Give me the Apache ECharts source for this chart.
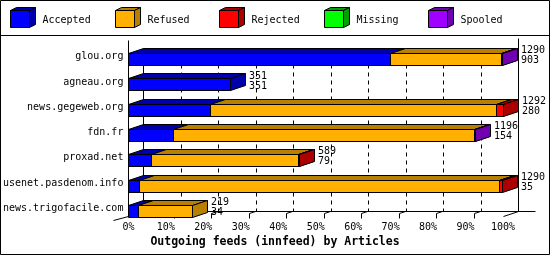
<!DOCTYPE html>
<html>
<head>
<meta charset="utf-8">
<script src="https://cdn.jsdelivr.net/npm/echarts@6/dist/echarts.min.js"></script>
<style>
html,body{margin:0;padding:0;background:#fff;}
#c{width:550px;height:255px;}
</style>
</head>
<body>
<div id="c"></div>
<script>
// ---- data ----
var categories = ["glou.org","agneau.org","news.gegeweb.org","fdn.fr","proxad.net","usenet.pasdenom.info","news.trigofacile.com"];
var seriesNames = ["Accepted","Refused","Rejected","Missing","Spooled"];
var accepted = [903, 351, 280, 154, 79, 35, 34];
var refused  = [382, 0, 988, 1039, 507, 1242, 185];
var rejected = [0, 0, 24, 0, 3, 13, 0];
var missing  = [0, 0, 0, 0, 0, 0, 0];
var spooled  = [5, 0, 0, 3, 0, 0, 0];
var tickValues = [0,10,20,30,40,50,60,70,80,90,100];
var titleText = "Outgoing feeds (innfeed) by Articles";

// ---- styles ----
var frontColors = ["#0000ff","#ffb000","#ff0000","#00ff00","#a000ff"];
var darkColors  = ["#0000aa","#b88000","#aa0000","#00a000","#7000b0"];
var FONT = "'DejaVu Sans Mono', monospace";
var DX = 15, DY = 5, FH = 12, FOFF = 3.5;

var allSeries = [accepted, refused, rejected, missing, spooled];
var totals = categories.map(function(_, i){
  return allSeries.reduce(function(s, arr){ return s + arr[i]; }, 0);
});
var maxTotal = Math.max.apply(null, totals);
function pct(v){ return v / maxTotal * 100; }
function r(v){ return Math.round(v) + 0.5; }

var chart = echarts.init(document.getElementById('c'), null, {renderer:'canvas'});

function barRender(si){
  return function(params, api){
    var start = api.value(0), cat = api.value(1), val = api.value(2);
    if (!(val > 0)) return {type:'group', children:[]};
    var p0 = api.coord([start, cat]);
    var p1 = api.coord([start + val, cat]);
    var x0 = r(p0[0]), x1 = r(p1[0]);
    var top = r(p0[1] - FOFF), bot = top + FH;
    var st = {stroke:'#000', lineWidth:1};
    return {type:'group', children:[
      {type:'polygon', shape:{points:[[x0,top],[x0+DX,top-DY],[x1+DX,top-DY],[x1,top]]},
        style:{fill:darkColors[si], stroke:'#000', lineWidth:1}},
      {type:'rect', shape:{x:x0, y:top, width:x1-x0, height:FH},
        style:{fill:frontColors[si], stroke:'#000', lineWidth:1}},
      {type:'polygon', shape:{points:[[x1,top],[x1+DX,top-DY],[x1+DX,bot-DY],[x1,bot]]},
        style:{fill:darkColors[si], stroke:'#000', lineWidth:1}}
    ]};
  };
}

var series = [];
// grid / frame series
series.push({
  type:'custom', name:'frame', z:1, silent:true,
  encode:{x:0, y:1},
  data: tickValues.map(function(v){ return [v, 0]; }),
  renderItem: function(params, api){
    var v = api.value(0);
    var pTop = api.coord([v, 0]);
    var pBot = api.coord([v, categories.length - 1]);
    var xf = r(pTop[0]);
    var xb = xf + DX;
    var yTop = Math.round(pTop[1] - 17) + 0.5;
    var frontFloor = Math.round(pBot[1] - FOFF + FH - 1) + 0.5;
    var backFloor = frontFloor - DY;
    var ch = [];
    var line = function(pts, dash){
      return {type:'polyline', shape:{points:pts},
        style:{stroke:'#000', lineWidth:1, fill:null, lineDash: dash || null}};
    };
    if (v === 0) {
      ch.push(line([[xb, yTop+8],[xb, backFloor]]));
      ch.push(line([[xf, yTop],[xf, frontFloor]]));
      ch.push(line([[xf - DX, frontFloor + 4],[xf, frontFloor]]));
    } else if (v === 100) {
      ch.push(line([[xb, yTop - 2],[xb, backFloor]]));
      ch.push(line([[xf, frontFloor],[xb, backFloor]]));
    } else {
      ch.push(line([[xb, yTop+8],[xb, backFloor]], [4,4]));
      ch.push(line([[xb-1, backFloor],[xb-7, backFloor+2],[xb-7, backFloor+7]]));
    }
    if (v === 100) {
      var p0 = api.coord([0, 0]);
      ch.push(line([[r(p0[0]) + DX, backFloor],[xb + 17, backFloor]]));
    }
    return {type:'group', children:ch};
  }
});

allSeries.forEach(function(arr, si){
  series.push({
    type:'custom', name:seriesNames[si], z:2, silent:true,
    encode:{x:[0,2], y:1},
    data: categories.map(function(_, i){
      var start = 0;
      for (var k = 0; k < si; k++) start += allSeries[k][i];
      return [pct(start), i, pct(arr[i])];
    }),
    renderItem: barRender(si)
  });
});

// value labels
series.push({
  type:'custom', name:'labels', z:3, silent:true,
  encode:{x:0, y:1},
  data: categories.map(function(_, i){ return [pct(totals[i]), i, totals[i], accepted[i]]; }),
  renderItem: function(params, api){
    var p = api.coord([api.value(0), api.value(1)]);
    var x = Math.round(p[0]) + DX + 4;
    var c = p[1];
    var font = '10px ' + FONT;
    return {type:'group', children:[
      {type:'text', style:{x:x, y:c - 6, text:String(api.value(2)), font:font, fill:'#000', textVerticalAlign:'middle', verticalAlign:'middle'}},
      {type:'text', style:{x:x, y:c + 4, text:String(api.value(3)), font:font, fill:'#000', textVerticalAlign:'middle', verticalAlign:'middle'}}
    ]};
  }
});

// legend graphics
var legendEls = [];
seriesNames.forEach(function(name, i){
  var x = Math.round(10 + i * 104.5) + 0.5, y = 10.5, w = 19, h = 17, dx = 6, dy = 3;
  legendEls.push({type:'polygon', shape:{points:[[x,y],[x+dx,y-dy],[x+w+dx,y-dy],[x+w,y]]},
    style:{fill:darkColors[i], stroke:'#000', lineWidth:1}});
  legendEls.push({type:'polygon', shape:{points:[[x+w,y],[x+w+dx,y-dy],[x+w+dx,y+h-dy],[x+w,y+h]]},
    style:{fill:darkColors[i], stroke:'#000', lineWidth:1}});
  legendEls.push({type:'rect', shape:{x:x, y:y, width:w, height:h},
    style:{fill:frontColors[i], stroke:'#000', lineWidth:1}});
  legendEls.push({type:'text', style:{x:x + 32, y:20, text:name, font:'10px ' + FONT, fill:'#000', textVerticalAlign:'middle', verticalAlign:'middle'}});
});
legendEls.push({type:'rect', shape:{x:0.5, y:0.5, width:549, height:254}, style:{fill:null, stroke:'#000', lineWidth:1}});
legendEls.push({type:'line', shape:{x1:0, y1:35.5, x2:550, y2:35.5}, style:{stroke:'#000', lineWidth:1}});

chart.setOption({
  animation:false,
  backgroundColor:'#fff',
  title:{text:titleText, left:'center', top:236, padding:0,
    textStyle:{fontFamily:FONT, fontSize:11.5, fontWeight:'bold', color:'#000'}},
  grid:{left:128, right:47, top:44, bottom:34, containLabel:false},
  xAxis:{type:'value', min:0, max:100, interval:10,
    axisLine:{show:false}, axisTick:{show:false}, splitLine:{show:false},
    axisLabel:{formatter:'{value}%', fontFamily:FONT, fontSize:10, color:'#000', margin:1}},
  yAxis:{type:'category', data:categories, inverse:true,
    axisLine:{show:false}, axisTick:{show:false}, splitLine:{show:false},
    axisLabel:{fontFamily:FONT, fontSize:10, color:'#000', margin:5}},
  graphic:{elements:legendEls},
  series:series
});
</script>
</body>
</html>
